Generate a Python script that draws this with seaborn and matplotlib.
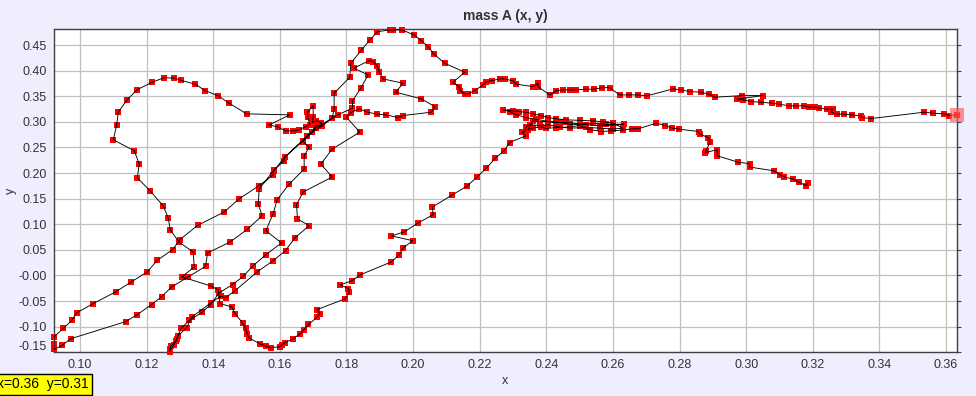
import matplotlib
matplotlib.use("Agg")
import matplotlib.pyplot as plt
import matplotlib.transforms as mtransforms
import numpy as np
import pandas as pd
import seaborn as sns

# trajectory of mass A, split in pieces in the order it was travelled
# start: lower right tail, moving left into the knot
tail_x = [0.3185, 0.3180, 0.3160, 0.3140, 0.3115, 0.3102, 0.3083, 0.3010, 0.3010, 0.2975,
          0.2913, 0.2913, 0.2877, 0.2880, 0.2892, 0.2885, 0.2860, 0.2857, 0.2797, 0.2778,
          0.2757, 0.2730, 0.2675]
tail_y = [0.1805, 0.1752, 0.1817, 0.1883, 0.1922, 0.1967, 0.2045, 0.2117, 0.2181, 0.2214,
          0.2337, 0.2454, 0.2401, 0.2440, 0.2616, 0.2694, 0.2766, 0.2811, 0.2858, 0.2877,
          0.2928, 0.2974, 0.2863]

# the knot: back and forth between x=0.227 and x=0.266
knot_x = [0.2657, 0.2630, 0.2595, 0.2565, 0.2530, 0.2500, 0.2470, 0.2430, 0.2400, 0.2385, 0.2360, 0.2344,
          0.2360, 0.2405, 0.2430, 0.2460, 0.2500, 0.2540, 0.2580, 0.2632,
          0.2600, 0.2560, 0.2520, 0.2470, 0.2440, 0.2405, 0.2370, 0.2340, 0.2310, 0.2290, 0.2270,
          0.2300, 0.2318, 0.2340, 0.2360, 0.2385, 0.2405, 0.2430, 0.2460, 0.2500, 0.2540, 0.2570, 0.2600,
          0.2630, 0.2600, 0.2560, 0.2520, 0.2470, 0.2440, 0.2405, 0.2380, 0.2350, 0.2340, 0.2335, 0.2327, 0.2338]
knot_y = [0.2863, 0.2840, 0.2824, 0.2811, 0.2850, 0.2928, 0.2900, 0.2889, 0.2870, 0.2902, 0.2880, 0.2844,
          0.3019, 0.3000, 0.2985, 0.2990, 0.2960, 0.2971, 0.2950, 0.2955,
          0.2935, 0.2922, 0.2945, 0.2951, 0.2990, 0.3010, 0.3050, 0.3078, 0.3140, 0.3201, 0.3234,
          0.3215, 0.3201, 0.3185, 0.3156, 0.3120, 0.3084, 0.3060, 0.3039, 0.3030, 0.3019, 0.3000, 0.2975,
          0.2877, 0.2860, 0.2877, 0.2890, 0.2877, 0.2900, 0.2941, 0.2930, 0.2941, 0.2908, 0.2811, 0.2799, 0.2727]

# long diagonal down, the U at the bottom, then up round the big left loop
loop_x = [0.2290, 0.2273, 0.2247, 0.2220, 0.2192, 0.2162, 0.2117, 0.2058, 0.2060, 0.2015,
          0.1973, 0.1935, 0.1999, 0.1970, 0.1958, 0.1934, 0.1841, 0.1816, 0.1781, 0.1806,
          0.1808, 0.1796, 0.1712, 0.1720, 0.1712, 0.1686, 0.1673, 0.1662, 0.1640, 0.1615,
          0.1605, 0.1600, 0.1572, 0.1558, 0.1539, 0.1507, 0.1502, 0.1497, 0.1488, 0.1466,
          0.1455, 0.1420, 0.1415, 0.1392, 0.1306, 0.1343, 0.1340, 0.1298, 0.1271, 0.1265,
          0.1250, 0.1211, 0.1172, 0.1178, 0.1163, 0.1100, 0.1110, 0.1115, 0.1142, 0.1172,
          0.1217, 0.1253, 0.1283, 0.1302, 0.1346, 0.1376, 0.1415, 0.1448, 0.1500, 0.1630]
loop_y = [0.2596, 0.2435, 0.2292, 0.2097, 0.1922, 0.1746, 0.1571, 0.1337, 0.1187, 0.1025,
          0.0850, 0.0772, 0.0680, 0.0538, 0.0401, 0.0263, 0.0012, -0.0105, -0.0183, -0.0255,
          -0.0328, -0.0456, -0.0665, -0.0743, -0.0815, -0.0957, -0.1055, -0.1133, -0.1236, -0.1314,
          -0.1353, -0.1392, -0.1411, -0.1380, -0.1333, -0.1216, -0.1133, -0.1029, -0.0924, -0.0749,
          -0.0612, -0.0548, -0.0281, -0.0203, -0.0027, 0.0167, 0.0460, 0.0647, 0.0889, 0.1123,
          0.1357, 0.1649, 0.1908, 0.2175, 0.2435, 0.2649, 0.2936, 0.3189, 0.3435, 0.3629,
          0.3774, 0.3863, 0.3852, 0.3813, 0.3735, 0.3610, 0.3507, 0.3364, 0.3156, 0.3136]

# small curl near (0.165, 0.29)
curl_x = [0.1568, 0.1595, 0.1617, 0.1640, 0.1658, 0.1678, 0.1690, 0.1684, 0.1683, 0.1700,
          0.1700, 0.1698, 0.1710, 0.1723, 0.1727, 0.1708, 0.1698]
curl_y = [0.2941, 0.2897, 0.2824, 0.2824, 0.2844, 0.2908, 0.2941, 0.3097, 0.3189, 0.3318,
          0.3097, 0.2986, 0.3019, 0.2986, 0.2922, 0.2928, 0.2799]

# strand A down to the left edge
strand_a_x = [0.1670, 0.1616, 0.1582, 0.1580, 0.1537, 0.1477, 0.1433, 0.1353, 0.1300, 0.1278,
              0.1232, 0.1202, 0.1154, 0.1107, 0.1040, 0.0990, 0.0975, 0.0950, 0.0922, 0.0922, 0.0922]
strand_a_y = [0.2630, 0.2318, 0.2045, 0.1961, 0.1752, 0.1493, 0.1240, 0.0978, 0.0700, 0.0505,
              0.0296, 0.0070, -0.0125, -0.0320, -0.0548, -0.0729, -0.0879, -0.1035, -0.1197, -0.1347, -0.1445]

# strand B back up to the top
strand_b_x = [0.0947, 0.0972, 0.1137, 0.1172, 0.1215, 0.1245, 0.1275, 0.1323, 0.1377, 0.1383,
              0.1451, 0.1502, 0.1547, 0.1535, 0.1538, 0.1583, 0.1613, 0.1615, 0.1708, 0.1774,
              0.1818, 0.1818, 0.1843, 0.1865, 0.1822]
strand_b_y = [-0.1361, -0.1236, -0.0901, -0.0765, -0.0567, -0.0414, -0.0225, -0.0035, 0.0179, 0.0440,
              0.0655, 0.0900, 0.1167, 0.1396, 0.1688, 0.2064, 0.2240, 0.2312, 0.2883, 0.3136,
              0.3267, 0.3409, 0.3657, 0.3916, 0.4047]

# zigzag under the hump
zig_x = [0.1868, 0.1880, 0.1892, 0.1898, 0.1910, 0.1970, 0.1948, 0.2025, 0.2065, 0.2055,
         0.1970, 0.1955, 0.1920, 0.1893, 0.1863, 0.1838, 0.1813, 0.1800]
zig_y = [0.4195, 0.4175, 0.4097, 0.3980, 0.3838, 0.3754, 0.3579, 0.3448, 0.3298, 0.3189,
         0.3123, 0.3084, 0.3136, 0.3150, 0.3189, 0.3253, 0.3181, 0.3091]

# strand D down to the bottom edge
strand_d_x = [0.1840, 0.1757, 0.1723, 0.1757, 0.1670, 0.1650, 0.1653, 0.1688, 0.1645, 0.1617,
              0.1580, 0.1532, 0.1466, 0.1437, 0.1423, 0.1393, 0.1335, 0.1320, 0.1295, 0.1287,
              0.1272, 0.1269]
strand_d_y = [0.2799, 0.2468, 0.2175, 0.1922, 0.1630, 0.1382, 0.1103, 0.0973, 0.0733, 0.0485,
              0.0290, 0.0070, -0.0294, -0.0436, -0.0405, -0.0534, -0.0815, -0.1021, -0.1172, -0.1283,
              -0.1380, -0.1489]

# strand C up again
strand_c_x = [0.1270, 0.1282, 0.1290, 0.1303, 0.1328, 0.1367, 0.1392, 0.1418, 0.1458, 0.1490,
              0.1520, 0.1558, 0.1605, 0.1558, 0.1580, 0.1592, 0.1628, 0.1673, 0.1673, 0.1688,
              0.1670, 0.1682, 0.1698, 0.1727, 0.1757]
strand_c_y = [-0.1444, -0.1361, -0.1250, -0.1035, -0.0879, -0.0717, -0.0567, -0.0339, -0.0177, -0.0016,
              0.0191, 0.0407, 0.0635, 0.0875, 0.1207, 0.1479, 0.1785, 0.2078, 0.2337, 0.2507,
              0.2616, 0.2727, 0.2799, 0.2922, 0.3072]

# over the hump and along the upper band to the end
hump_x = [0.1763, 0.1763, 0.1810, 0.1813, 0.1845, 0.1870, 0.1893, 0.1930, 0.1940, 0.1967,
          0.2003, 0.2025, 0.2045, 0.2063, 0.2095, 0.2155, 0.2120, 0.2138, 0.2142, 0.2155,
          0.2165, 0.2185, 0.2210, 0.2220, 0.2238, 0.2260, 0.2275, 0.2300, 0.2310, 0.2360,
          0.2375, 0.2375, 0.2410, 0.2430, 0.2450, 0.2470, 0.2490, 0.2520, 0.2543, 0.2567,
          0.2590, 0.2620, 0.2647, 0.2675, 0.2702, 0.2780, 0.2805, 0.2830, 0.2865, 0.2888,
          0.2905, 0.2988, 0.3050, 0.2972, 0.2990, 0.3015, 0.3043, 0.3077, 0.3098, 0.3130,
          0.3151, 0.3175, 0.3188, 0.3207, 0.3220, 0.3243, 0.3260, 0.3255, 0.3272, 0.3293,
          0.3318, 0.3345, 0.3348, 0.3375, 0.3535, 0.3560, 0.3595, 0.3610, 0.3632]
hump_y = [0.3247, 0.3559, 0.3871, 0.4144, 0.4403, 0.4598, 0.4760, 0.4795, 0.4795, 0.4795,
          0.4696, 0.4585, 0.4468, 0.4320, 0.4144, 0.3969, 0.3774, 0.3688, 0.3610, 0.3546,
          0.3546, 0.3610, 0.3721, 0.3786, 0.3805, 0.3838, 0.3838, 0.3799, 0.3735, 0.3688,
          0.3754, 0.3688, 0.3526, 0.3610, 0.3624, 0.3624, 0.3624, 0.3637, 0.3637, 0.3668,
          0.3668, 0.3526, 0.3526, 0.3526, 0.3507, 0.3643, 0.3624, 0.3591, 0.3579, 0.3540,
          0.3481, 0.3513, 0.3513, 0.3442, 0.3429, 0.3396, 0.3384, 0.3364, 0.3345, 0.3312,
          0.3312, 0.3312, 0.3286, 0.3286, 0.3267, 0.3247, 0.3247, 0.3189, 0.3150, 0.3150,
          0.3136, 0.3117, 0.3084, 0.3064, 0.3189, 0.3169, 0.3156, 0.3123, 0.3136]

xtick_vals = [0.10, 0.12, 0.14, 0.16, 0.18, 0.20, 0.22, 0.24, 0.26, 0.28, 0.30, 0.32, 0.34, 0.36]
xtick_labels = ['0.10', '0.12', '0.14', '0.16', '0.18', '0.20', '0.22', '0.24', '0.26',
                '0.28', '0.30', '0.32', '0.34', '0.36']
ytick_vals = [-0.15, -0.10, -0.05, 0.0, 0.05, 0.10, 0.15, 0.20, 0.25, 0.30, 0.35, 0.40, 0.45]
ytick_labels = ['-0.15', '-0.10', '-0.05', '-0.00', '0.05', '0.10', '0.15', '0.20', '0.25',
                '0.30', '0.35', '0.40', '0.45']
readout = 'x=0.36  y=0.31'


def build_path() -> pd.DataFrame:
    """Join the pieces into one ordered path."""
    xs = tail_x + knot_x + loop_x + curl_x + strand_a_x + strand_b_x + zig_x + strand_d_x + strand_c_x + hump_x
    ys = tail_y + knot_y + loop_y + curl_y + strand_a_y + strand_b_y + zig_y + strand_d_y + strand_c_y + hump_y
    return pd.DataFrame({'x': xs, 'y': ys, 'step': np.arange(len(xs))})


df = build_path()

sns.set_style('white')
plt.rcParams['font.family'] = ['Liberation Sans', 'DejaVu Sans']

fig = plt.figure(figsize=(9.76, 3.96), dpi=100, facecolor='#eeeeff')
ax = fig.add_axes([54 / 976, (396 - 352.3) / 396, (956.7 - 54) / 976, (352.3 - 29.3) / 396])
ax.set_facecolor('white')

sns.scatterplot(data=df, x='x', y='y', marker='s', s=16, color='#ff0000', linewidth=0,
                clip_on=False, zorder=3, ax=ax)
sns.lineplot(data=df, x='x', y='y', sort=False, estimator=None, color='black',
             linewidth=0.65, zorder=4, ax=ax)
sns.scatterplot(data=df.tail(1), x='x', y='y', marker='s', s=110, color='#ff5a5a', alpha=0.65,
                linewidth=0, clip_on=False, zorder=5, ax=ax)

ax.set_xlim(0.0922, 0.3632)
ax.set_ylim(-0.15, 0.4807)
ax.set_xticks(xtick_vals)
ax.set_xticklabels(xtick_labels)
ax.set_yticks(ytick_vals)
ax.set_yticklabels(ytick_labels)
ax.grid(True, color='#c0c0c0', linewidth=0.9)
ax.set_axisbelow(True)
for side in ['left', 'right', 'top', 'bottom']:
    ax.spines[side].set_color('#404040')
    ax.spines[side].set_linewidth(1.0)
ax.tick_params(axis='both', which='both', labelsize=9, labelcolor='#333333', color='#404040',
               direction='out', length=3, width=0.8, pad=2)
ax.tick_params(axis='y', right=True, labelright=False)

# the bottom label sits a little above the axis line in the original
offset = mtransforms.ScaledTranslation(0, 5 / 72, fig.dpi_scale_trans)
lbl = ax.get_yticklabels()[0]
lbl.set_transform(lbl.get_transform() + offset)

ax.set_xlabel('x', fontsize=9, color='#333333', labelpad=3)
ax.set_ylabel('y', fontsize=9, color='#333333', labelpad=1)
ax.set_title('mass A (x, y)', fontsize=10, fontweight='bold', color='#333333', pad=7)
ax.legend_ = None

fig.text(-0.003, 0.012, readout, fontsize=10, color='black', ha='left', va='bottom',
         bbox=dict(boxstyle='square,pad=0.25', facecolor='#ffff00', edgecolor='black', linewidth=1))

fig.savefig('out.png', dpi=100, facecolor=fig.get_facecolor())
